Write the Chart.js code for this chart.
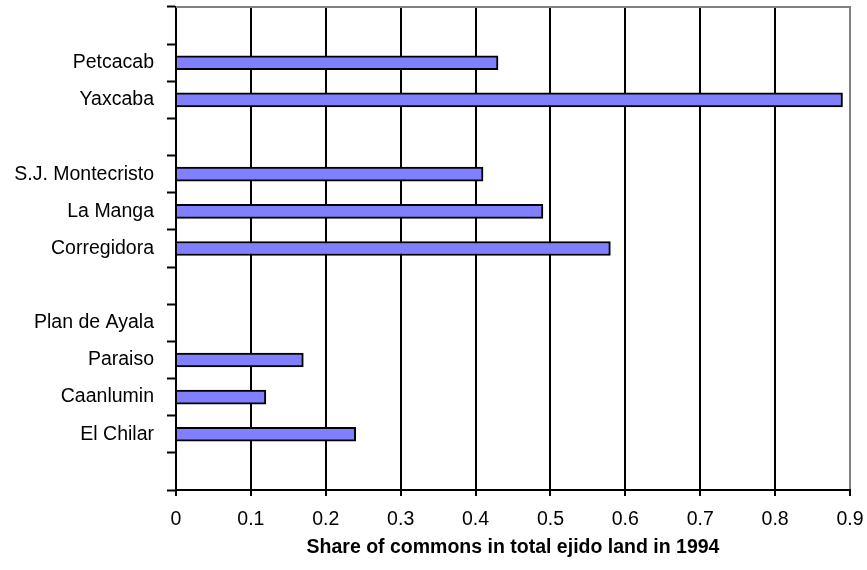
<!DOCTYPE html>
<html>
<head>
<meta charset="utf-8">
<script src="https://cdn.jsdelivr.net/npm/chart.js@4/dist/chart.umd.min.js"></script>
<style>
  body { margin: 0; background: #fff; }
  #wrap { width: 867px; height: 570px; }
</style>
</head>
<body>
<div id="wrap"><canvas id="chart" width="867" height="570"></canvas></div>
<script>
// ejido names, top to bottom ('' = empty spacer row)
var categories = ['', 'Petcacab', 'Yaxcaba', '', 'S.J. Montecristo', 'La Manga', 'Corregidora',
                  '', 'Plan de Ayala', 'Paraiso', 'Caanlumin', 'El Chilar', ''];
// share of commons in total ejido land, 1994
var shares = [null, 0.43, 0.89, null, 0.41, 0.49, 0.58, null, 0, 0.17, 0.12, 0.24, null];
var xMin = 0, xMax = 0.9, xStep = 0.1;
var xTitle = 'Share of commons in total ejido land in 1994';

var font = "'Liberation Sans', Arial, sans-serif";

// gray frame line along the top of the plot area
var topFrame = {
    id: 'topFrame',
    beforeDatasetsDraw: function (chart) {
        var a = chart.chartArea, ctx = chart.ctx;
        ctx.save();
        ctx.strokeStyle = '#808080';
        ctx.lineWidth = 2;
        ctx.beginPath();
        ctx.moveTo(a.left, a.top);
        ctx.lineTo(a.right + 1, a.top);
        ctx.stroke();
        ctx.restore();
    }
};

var context = document.getElementById('chart');
new Chart(context, {
    type: 'bar',
    data: {
        labels: categories,
        datasets: [{
            data: shares,
            backgroundColor: '#8080FF',
            borderColor: '#000',
            borderWidth: 2,
            barThickness: 14
        }]
    },
    options: {
        indexAxis: 'y',
        responsive: false,
        animation: false,
        layout: { padding: { top: 7, right: 17, left: 0, bottom: 0 } },
        plugins: { legend: { display: false }, tooltip: { enabled: false } },
        scales: {
            x: {
                min: xMin,
                max: xMax,
                ticks: {
                    stepSize: xStep,
                    color: '#000',
                    padding: 12,
                    font: { family: font, size: 19.5 },
                    callback: function (v) { return String(+v.toFixed(1)); }
                },
                grid: {
                    color: function (c) { return c.index === 9 ? '#808080' : '#000'; },
                    lineWidth: 2,
                    tickLength: 6,
                    tickColor: '#000',
                    tickWidth: 2
                },
                border: { color: '#000', width: 2 },
                title: {
                    display: true,
                    text: xTitle,
                    color: '#000',
                    font: { family: font, size: 19.5, weight: 'bold' },
                    padding: { top: 4, bottom: 11 }
                },
                afterFit: function (scale) {
                    scale.height = 80;
                    scale.paddingLeft = 0;
                    scale.paddingRight = 0;
                }
            },
            y: {
                ticks: {
                    color: '#000',
                    padding: 13,
                    autoSkip: false,
                    font: { family: font, size: 19.5 }
                },
                grid: {
                    offset: true,
                    drawOnChartArea: false,
                    tickLength: 9,
                    tickColor: '#000',
                    tickWidth: 2
                },
                border: { color: '#000', width: 2 },
                afterFit: function (scale) {
                    scale.width = 176;
                    scale.paddingTop = 0;
                    scale.paddingBottom = 0;
                }
            }
        }
    },
    plugins: [topFrame]
});
</script>
</body>
</html>
